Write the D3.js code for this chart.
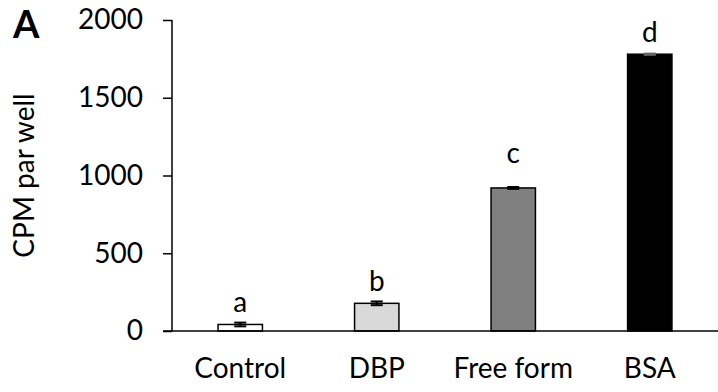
<!DOCTYPE html>
<html>
<head>
<meta charset="utf-8">
<script src="https://cdn.jsdelivr.net/npm/d3@7"></script>
<style>
  html, body { margin: 0; padding: 0; background: #fff; }
  svg { display: block; }
  svg text { font-family: Lato, "Open Sans", sans-serif; fill: #000; }
  .axis-g text { font-size: 28px; }
  .axis-g path, .axis-g line { stroke: #000; stroke-width: 1.5; }
</style>
</head>
<body>
<div id="chart"></div>
<script>
const categories = ["Control", "DBP", "Free form", "BSA"];
const means = [42, 178, 920, 1780];
const errors = [12, 12, 6, 4];
const letters = ["a", "b", "c", "d"];
const fills = ["#ffffff", "#d9d9d9", "#808080", "#000000"];
const yTicks = [0, 500, 1000, 1500, 2000];

const width = 718;
const height = 392;
const marginTop = 20;
const marginRight = 0;
const marginBottom = 61;
const marginLeft = 172;

const svg = d3
  .select("#chart")
  .append("svg")
  .attr("width", width)
  .attr("height", height)
  .attr("viewBox", [0, 0, width, height]);

const x = d3
  .scaleBand()
  .domain(categories)
  .range([marginLeft, width - marginRight])
  .paddingInner(0.675)
  .paddingOuter(0.3375);

const y = d3
  .scaleLinear()
  .domain([0, 2000])
  .range([height - marginBottom, marginTop]);

const data = categories.map((c, i) => ({
  cat: c,
  value: means[i],
  err: errors[i],
  letter: letters[i],
  fill: fills[i],
}));

// y axis
svg
  .append("g")
  .attr("class", "axis-g axis-g--y")
  .attr("transform", `translate(${marginLeft},0)`)
  .call(
    d3.axisLeft(y).tickValues(yTicks).tickFormat(d3.format("d")).tickSize(9).tickPadding(20)
  )
  .call((g) => g.select(".domain").attr("d", `M0,${y(0)}V${y(2000)}`));

// bars
svg
  .append("g")
  .selectAll("rect")
  .data(data)
  .join("rect")
  .attr("x", (d) => x(d.cat))
  .attr("width", x.bandwidth())
  .attr("y", (d) => y(d.value))
  .attr("height", (d) => y(0) - y(d.value))
  .attr("fill", (d) => d.fill)
  .attr("stroke", "#000")
  .attr("stroke-width", 1.5);

// error bars
const eg = svg.append("g").attr("stroke-width", 2);
const cap = 6;
data.forEach((d) => {
  const cx = x(d.cat) + x.bandwidth() / 2;
  const color = d.fill === "#000000" ? "#666" : "#000";
  eg.append("line")
    .attr("x1", cx).attr("x2", cx)
    .attr("y1", y(d.value - d.err)).attr("y2", y(d.value + d.err))
    .attr("stroke", color);
  [d.value - d.err, d.value + d.err].forEach((v) => {
    eg.append("line")
      .attr("x1", cx - cap).attr("x2", cx + cap)
      .attr("y1", y(v)).attr("y2", y(v))
      .attr("stroke", color);
  });
});

// x axis
svg
  .append("g")
  .attr("class", "axis-g axis-g--x")
  .attr("transform", `translate(0,${y(0)})`)
  .call(d3.axisBottom(x).tickSize(0).tickPadding(27))
  .call((g) => g.select(".domain").attr("d", `M${marginLeft - 9},0H${width}`))
  .call((g) => g.selectAll("text").attr("dy", "0.71em"));

// significance letters (the "c" sits a bit higher in the original)
svg
  .append("g")
  .selectAll("text")
  .data(data)
  .join("text")
  .attr("x", (d) => x(d.cat) + x.bandwidth() / 2)
  .attr("y", (d) => y(d.value) - (d.letter === "c" ? 25 : 12))
  .attr("text-anchor", "middle")
  .attr("font-size", 28)
  .text((d) => d.letter);

// y label
svg
  .append("text")
  .attr("transform", `translate(34,${(y(0) + y(2000)) / 2}) rotate(-90)`)
  .attr("text-anchor", "middle")
  .attr("font-size", 28)
  .text("CPM par well");

// panel label
svg
  .append("text")
  .attr("x", 13)
  .attr("y", 38)
  .attr("font-size", 38)
  .attr("font-weight", "bold")
  .text("A");
</script>
</body>
</html>
